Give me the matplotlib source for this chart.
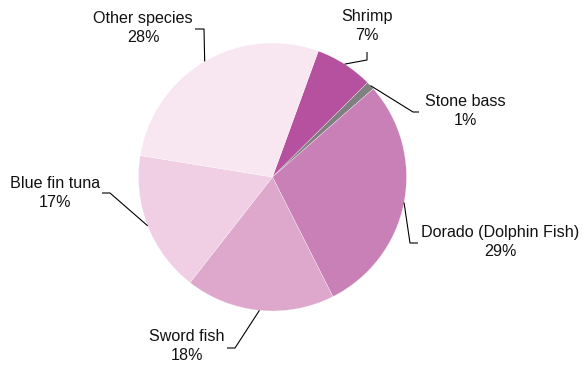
import numpy as np
import matplotlib
matplotlib.use("Agg")
import matplotlib.pyplot as plt

# ---- data ----
species = ["Shrimp", "Stone bass", "Dorado (Dolphin Fish)", "Sword fish",
           "Blue fin tuna", "Other species"]
shares = [7, 1, 29, 18, 17, 28]
colors = ["#B5519F", "#808080", "#C980B7", "#DDA8CC", "#F0CFE4", "#F8E7F1"]

# label layout in pixel coords (y from top): text centre, elbow, end of leader
text_pos = [(367, 26), (465, 111), (500, 242), (187, 346), (55, 193), (143, 28)]
elbows = [(367, 60), (413, 112), (410, 243), (235, 348), (110, 193), (204, 29)]
ends = [(367, 52), (419, 112), (418, 243), (227, 348), (102, 193), (195, 29)]

W, H = 585, 366
CX, CY, R = 272.5, 177, 134
START = 70  # degrees, counter-clockwise from +x

plt.rcParams["font.family"] = ["Liberation Sans", "DejaVu Sans"]

fig = plt.figure(figsize=(W / 100, H / 100), dpi=100)
ax = fig.add_axes([0, 0, 1, 1])

def fy(y):
    return H - y

wedges, _ = ax.pie(shares, colors=colors, startangle=START, counterclock=False,
                   center=(CX, fy(CY)), radius=R, frame=True,
                   wedgeprops=dict(edgecolor="white", linewidth=0.2))

ax.set_xlim(0, W)
ax.set_ylim(0, H)
ax.set_aspect("equal")
ax.axis("off")

for w, name, val, tp, el, en in zip(wedges, species, shares, text_pos, elbows, ends):
    mid = np.deg2rad((w.theta1 + w.theta2) / 2)
    ax_x = CX + R * np.cos(mid)
    ax_y = fy(CY) + R * np.sin(mid)
    ax.plot([ax_x, el[0], en[0]], [ax_y, fy(el[1]), fy(en[1])],
            color="black", lw=0.8, solid_capstyle="butt")
    ax.text(tp[0], fy(tp[1]), f"{name}\n{val}%", ha="center", va="center",
            multialignment="center", fontsize=11.6, color="#111111",
            linespacing=1.3)

fig.savefig("out.png", dpi=100)
